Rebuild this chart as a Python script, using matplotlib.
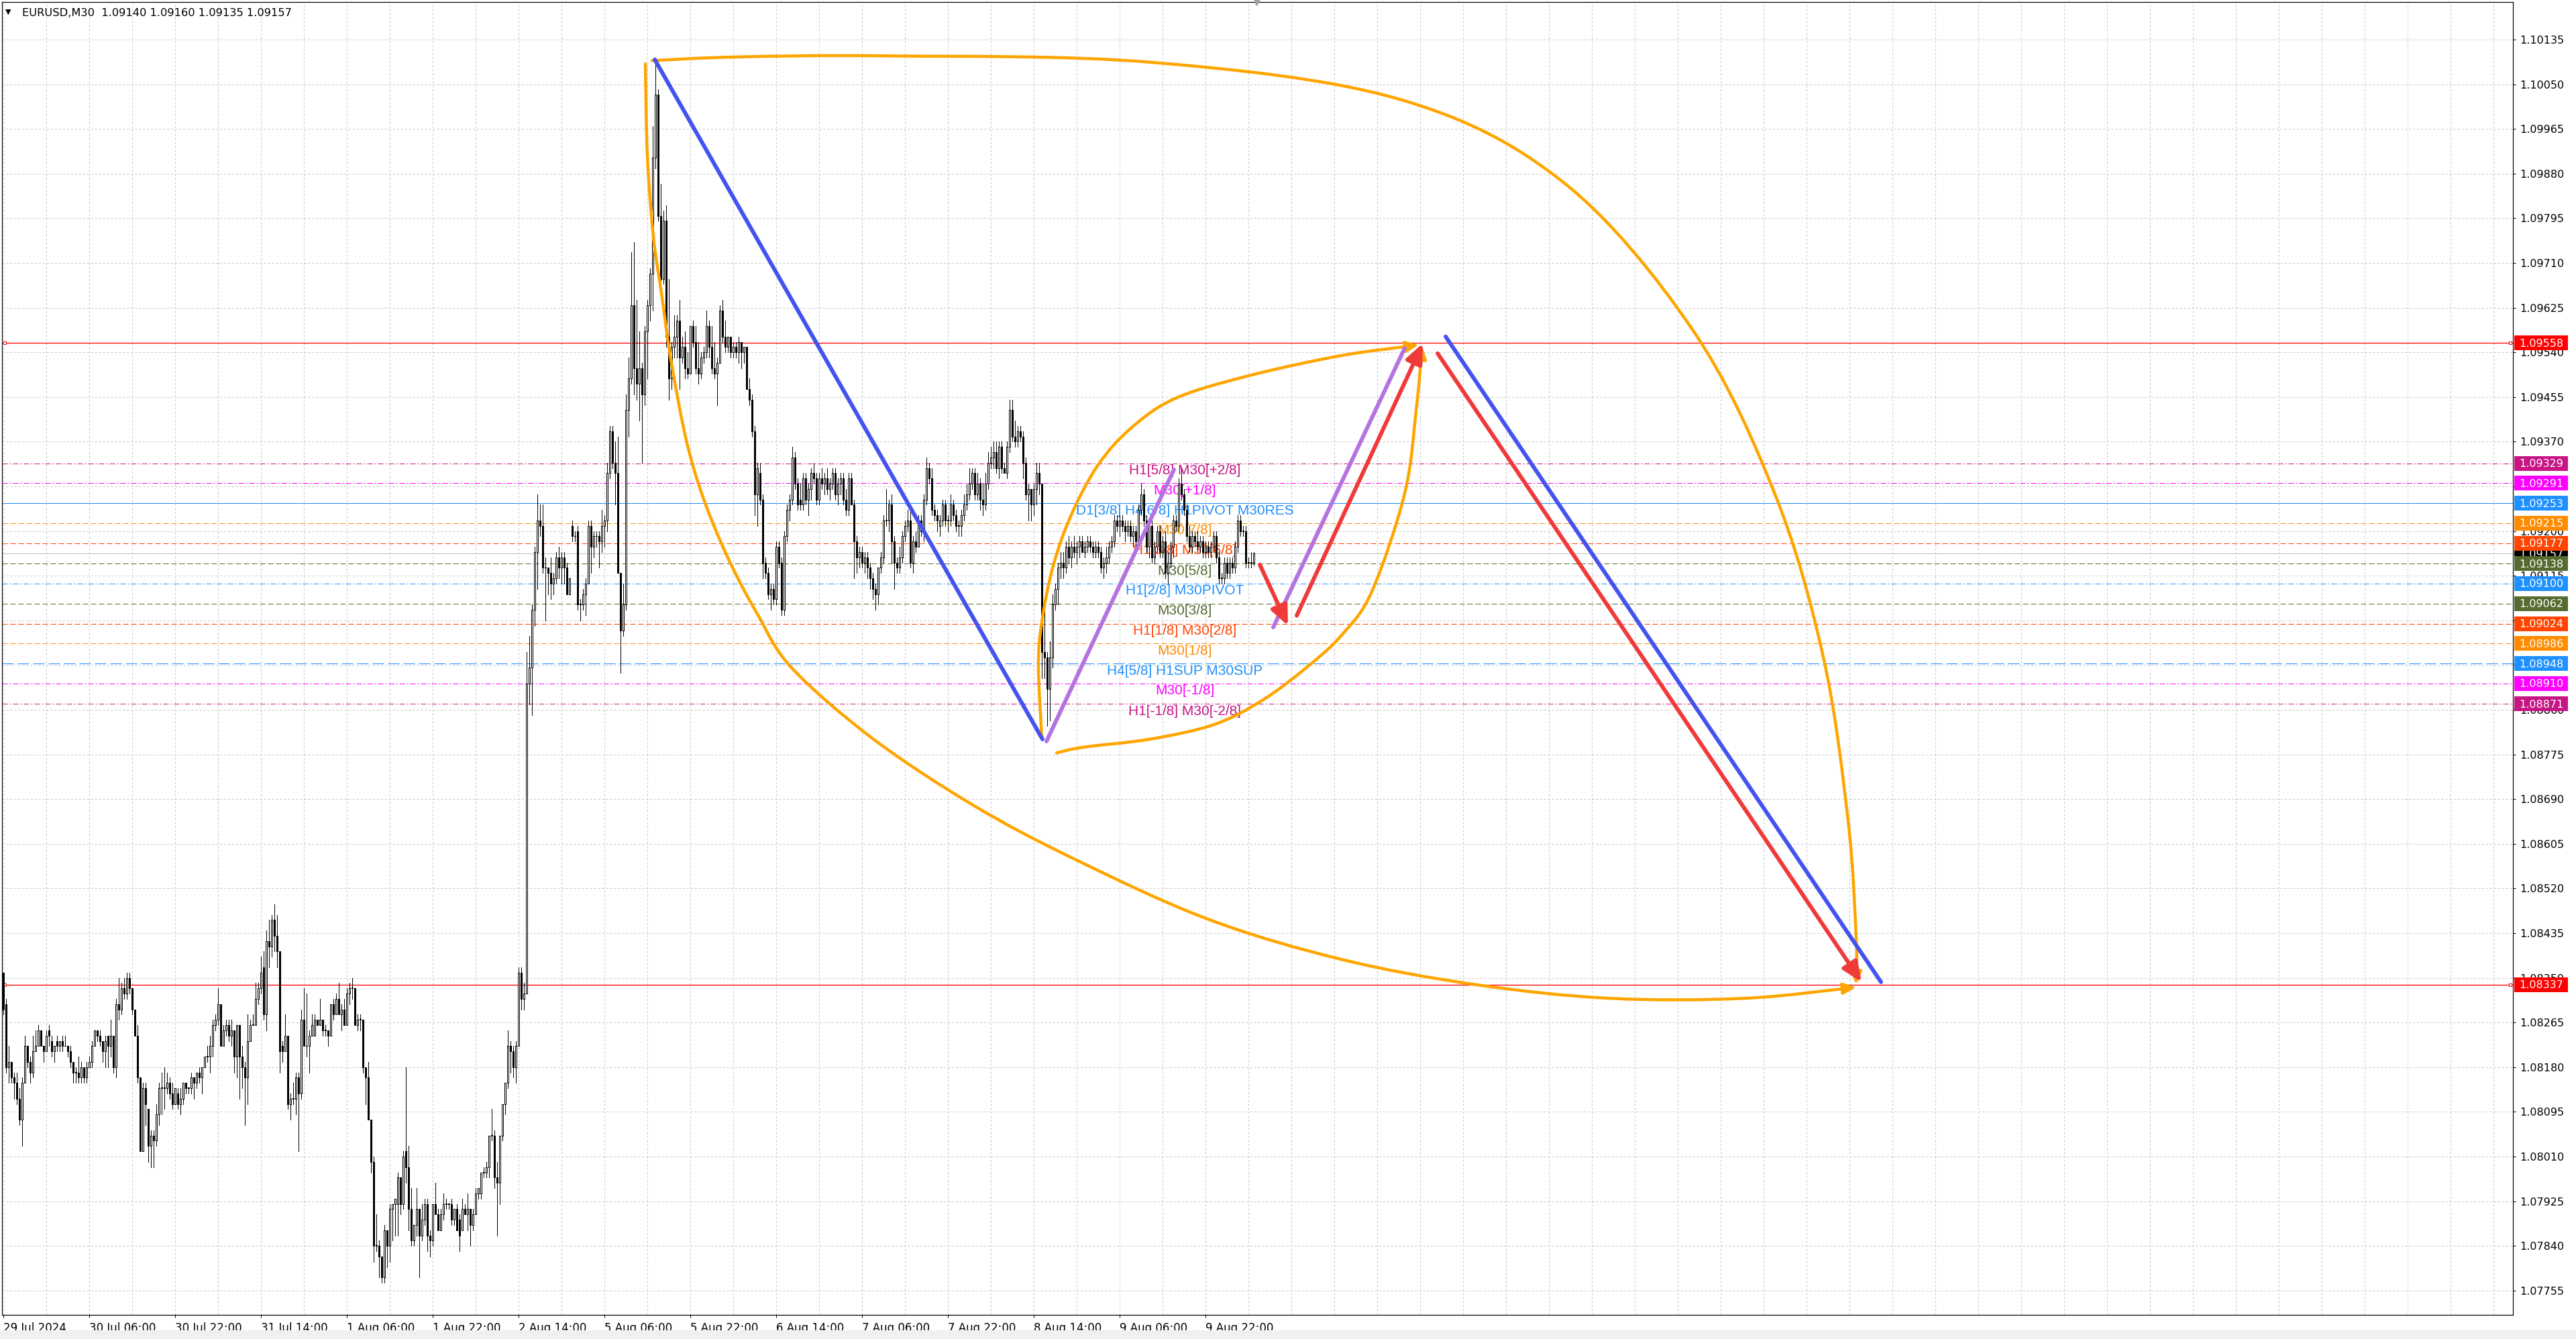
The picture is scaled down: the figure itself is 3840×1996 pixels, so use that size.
import numpy as np
import matplotlib
matplotlib.use("Agg")
import matplotlib.pyplot as plt
from matplotlib.path import Path
from matplotlib.patches import FancyArrowPatch, Rectangle
from matplotlib.transforms import blended_transform_factory

plt.rcParams['font.family'] = ['DejaVu Sans']
plt.rcParams['lines.scale_dashes'] = False

PX = 0.72  # one pixel in points (dpi 100)

# EURUSD M30 candles, bar 0 = 29 Jul 14:00; prices in pips above 1.0000
opens = [
    836, 830, 818, 819, 816, 815, 812, 808, 815, 822,
    819, 817, 821, 822, 825, 822, 821, 825, 823, 821,
    823, 822, 823, 822, 822, 821, 819, 817, 817, 816,
    818, 816, 818, 819, 822, 825, 824, 823, 821, 824,
    822, 824, 818, 830, 829, 833, 832, 835, 833, 829,
    824, 816, 802, 814, 810, 803, 805, 804, 809, 814,
    814, 814, 815, 813, 811, 813, 811, 812, 815, 814,
    814, 816, 815, 817, 816, 818, 820, 820, 822, 826,
    827, 830, 822, 825, 826, 824, 825, 820, 826, 820,
    818, 816, 823, 826, 826, 831, 833, 837, 828, 842,
    841, 846, 843, 840, 822, 821, 824, 811, 812, 812,
    816, 813, 827, 822, 822, 824, 824, 827, 826, 827,
    825, 825, 824, 830, 828, 831, 828, 829, 826, 832,
    833, 833, 826, 827, 827, 818, 816, 808, 800, 784,
    784, 782, 778, 787, 784, 791, 792, 792, 797, 792,
    802, 799, 791, 785, 788, 791, 786, 789, 792, 786,
    785, 792, 790, 787, 790, 792, 792, 792, 789, 791,
    789, 787, 791, 790, 791, 788, 790, 794, 794, 798,
    798, 799, 805, 805, 797, 796, 805, 811, 815, 822,
    821, 818, 822, 836, 831, 832, 891, 894, 905, 916,
    922, 921, 913, 913, 912, 910, 911, 915, 913, 915,
    913, 908, 921, 919, 920, 906, 906, 908, 910, 921,
    917, 919, 919, 918,
    921, 922, 931, 939, 933, 931, 912, 901, 906, 943,
    949, 963, 951, 948, 951, 946, 958, 963, 969, 991,
    1003, 980, 968, 979, 957, 949, 955, 957, 960, 953,
    955, 951, 950, 959, 956, 951, 950, 953, 954, 959,
    955, 951, 950, 952, 962, 957, 955, 957, 954, 955,
    954, 956, 954, 955, 947, 945, 939, 927, 931, 926,
    914, 912, 908, 909, 907, 917, 914, 905, 919, 924,
    926, 934, 929, 926, 925, 930, 926, 928, 931, 930,
    926, 930, 929, 930, 928, 929, 931, 927, 929, 930,
    926, 924, 930, 925, 918, 915, 916, 914, 915, 913,
    911, 909, 908, 913, 915, 922, 922, 925, 918, 914,
    913, 915, 919, 921, 922, 914, 918, 917, 922, 920,
    926, 932, 930, 924, 923, 921, 922, 925, 922, 922,
    925, 923, 921, 921, 923, 925, 927, 929, 931, 927,
    929, 926, 925, 929, 933, 934, 935, 932, 936, 932,
    931, 936, 943, 938, 937, 939, 938, 933, 927, 928,
    925, 928, 931, 929, 897, 896, 890, 896, 906, 909,
    913, 914, 913, 917, 915, 917, 916, 917, 918, 916,
    917, 918, 917, 916, 917, 916, 913, 914, 915, 917,
    918, 922, 921, 922, 921, 920, 921, 919, 920, 918,
    924, 927, 922, 917, 921, 915, 917, 920, 916, 918,
    912, 914, 917, 922, 921, 929, 927, 924, 919, 917,
    919, 918, 917, 918, 916, 917, 916, 917, 919, 915,
    911, 911, 914, 912, 914, 913, 917, 922, 920, 920,
    914, 914, 914.0,
]
highs = [
    836, 831, 822, 819, 817, 817, 814, 816, 824, 822,
    820, 824, 825, 826, 825, 822, 825, 826, 824, 822,
    824, 823, 824, 824, 822, 822, 819, 818, 820, 819,
    818, 819, 820, 823, 825, 825, 825, 823, 824, 824,
    827, 824, 831, 835, 834, 835, 836, 836, 833, 829,
    826, 816, 815, 815, 810, 806, 806, 811, 815, 817,
    818, 817, 816, 815, 814, 814, 814, 815, 815, 814,
    817, 816, 817, 818, 818, 820, 822, 824, 827, 828,
    833, 830, 826, 827, 827, 827, 825, 826, 826, 822,
    819, 828, 827, 828, 834, 834, 839, 840, 844, 846,
    847, 849, 847, 840, 823, 828, 824, 813, 815, 817,
    817, 829, 833, 832, 825, 828, 828, 827, 831, 827,
    826, 825, 830, 831, 832, 834, 830, 831, 833, 834,
    835, 833, 828, 828, 827, 818, 819, 808, 801, 790,
    785, 782, 788, 787, 792, 792, 793, 798, 797, 802,
    818, 803, 795, 788, 795, 791, 792, 793, 793, 787,
    792, 796, 791, 791, 794, 793, 792, 793, 791, 792,
    790, 793, 792, 794, 791, 791, 795, 795, 798, 799,
    800, 805, 810, 806, 800, 805, 811, 815, 825, 823,
    822, 823, 837, 837, 834, 897, 900, 906, 917, 927,
    925, 925, 915, 913, 915, 912, 916, 917, 916, 916,
    914, 911, 922, 920, 921, 907, 909, 911, 922, 922,
    920, 920, 920, 924,
    923, 933, 940, 940, 937, 938, 912, 910, 946, 953,
    973, 975, 964, 958, 952, 959, 964, 970, 997, 1010,
    1004, 986, 981, 982, 968, 956, 961, 961, 964, 957,
    958, 954, 959, 960, 959, 956, 954, 955, 962, 960,
    959, 956, 953, 963, 964, 960, 957, 957, 956, 956,
    957, 956, 955, 955, 949, 946, 940, 933, 933, 927,
    915, 913, 910, 910, 918, 918, 915, 920, 925, 927,
    936, 935, 930, 929, 931, 931, 929, 932, 933, 931,
    931, 932, 931, 932, 930, 932, 932, 930, 931, 931,
    928, 931, 931, 926, 919, 917, 917, 916, 916, 914,
    912, 910, 913, 916, 923, 928, 926, 927, 919, 915,
    917, 920, 922, 924, 924, 919, 920, 923, 923, 927,
    934, 933, 932, 925, 924, 923, 926, 926, 923, 927,
    926, 924, 922, 924, 927, 929, 932, 932, 932, 931,
    930, 929, 931, 935, 936, 937, 937, 937, 937, 933,
    937, 945, 945, 941, 940, 940, 939, 934, 929, 928,
    929, 933, 933, 929, 906, 897, 899, 908, 910, 914,
    916, 916, 918, 919, 918, 919, 918, 919, 919, 918,
    919, 919, 918, 918, 918, 917, 915, 917, 918, 919,
    923, 923, 923, 923, 922, 922, 922, 921, 921, 925,
    929, 928, 923, 922, 922, 918, 921, 921, 919, 920,
    916, 918, 923, 923, 930, 932, 928, 925, 921, 920,
    920, 920, 919, 919, 918, 918, 918, 920, 920, 916,
    912, 915, 915, 915, 915, 918, 923, 923, 921, 921,
    915, 916, 916.0,
]
lows = [
    828, 817, 815, 815, 812, 811, 807, 803, 815, 818,
    815, 816, 821, 822, 822, 819, 821, 822, 820, 819,
    821, 821, 821, 822, 820, 818, 815, 815, 815, 815,
    815, 815, 818, 818, 822, 823, 822, 819, 818, 818,
    820, 817, 816, 827, 828, 831, 831, 832, 828, 824,
    815, 802, 802, 807, 800, 799, 799, 803, 807, 809,
    810, 813, 812, 810, 811, 810, 809, 811, 813, 813,
    813, 812, 814, 815, 813, 818, 819, 817, 820, 825,
    826, 822, 822, 824, 823, 822, 817, 816, 812, 814,
    807, 811, 823, 826, 826, 830, 832, 827, 825, 837,
    839, 840, 837, 817, 819, 821, 810, 808, 811, 809,
    802, 812, 822, 820, 817, 824, 824, 826, 826, 824,
    824, 822, 824, 827, 828, 828, 825, 826, 826, 830,
    831, 826, 825, 825, 817, 811, 808, 798, 781, 783,
    778, 777, 777, 780, 781, 785, 786, 786, 790, 791,
    796, 787, 784, 784, 786, 778, 785, 788, 783, 782,
    784, 790, 787, 787, 789, 791, 791, 788, 788, 787,
    783, 787, 790, 787, 784, 787, 790, 793, 793, 797,
    797, 797, 804, 795, 786, 792, 804, 809, 814, 817,
    816, 815, 822, 829, 829, 832, 887, 885, 902, 909,
    919, 912, 903, 908, 907, 908, 910, 911, 910, 910,
    908, 908, 918, 918, 905, 903, 905, 904, 910, 912,
    915, 917, 913, 916,
    917, 920, 930, 932, 925, 912, 893, 900, 905, 938,
    948, 946, 945, 941, 933, 944, 949, 960, 962, 989,
    979, 966, 967, 955, 945, 947, 953, 953, 947, 952,
    949, 949, 950, 955, 950, 948, 949, 952, 953, 953,
    950, 949, 944, 952, 956, 954, 954, 953, 953, 953,
    952, 951, 952, 947, 944, 938, 923, 921, 925, 911,
    911, 907, 905, 906, 906, 913, 904, 904, 918, 922,
    925, 928, 924, 924, 924, 925, 923, 926, 929, 925,
    925, 928, 927, 927, 926, 928, 926, 925, 927, 925,
    923, 923, 925, 911, 912, 913, 913, 912, 911, 909,
    907, 905, 906, 912, 914, 921, 920, 914, 909, 912,
    912, 914, 918, 920, 913, 912, 916, 917, 919, 918,
    925, 929, 923, 922, 920, 919, 921, 921, 920, 921,
    922, 920, 919, 919, 922, 924, 926, 928, 926, 926,
    924, 923, 924, 928, 932, 932, 931, 930, 931, 931,
    930, 935, 937, 936, 936, 937, 930, 926, 922, 922,
    923, 925, 927, 892, 892, 883, 884, 894, 905, 906,
    911, 911, 912, 914, 913, 915, 914, 915, 916, 915,
    916, 916, 915, 915, 915, 912, 911, 912, 914, 916,
    917, 920, 919, 920, 918, 919, 918, 917, 917, 917,
    923, 921, 916, 915, 914, 914, 916, 915, 915, 911,
    910, 913, 915, 920, 920, 926, 923, 918, 916, 916,
    917, 916, 916, 915, 915, 915, 915, 916, 914, 910,
    910, 910, 911, 911, 912, 912, 916, 919, 919, 913,
    913, 913, 913.5,
]
closes = [
    829, 818, 819, 816, 815, 812, 808, 815, 822, 819,
    817, 821, 822, 825, 822, 821, 824, 824, 821, 822,
    822, 823, 822, 822, 821, 819, 817, 817, 816, 818,
    816, 818, 819, 822, 825, 824, 823, 821, 823, 822,
    824, 818, 830, 829, 833, 832, 835, 833, 829, 824,
    816, 802, 814, 811, 803, 805, 804, 809, 814, 814,
    814, 815, 813, 811, 814, 811, 812, 815, 814, 814,
    816, 815, 817, 816, 818, 820, 820, 822, 826, 827,
    830, 822, 825, 826, 824, 825, 820, 826, 820, 818,
    816, 823, 826, 826, 831, 833, 836, 828, 842, 841,
    846, 843, 840, 821, 821, 824, 811, 812, 812, 816,
    813, 827, 822, 822, 824, 826, 827, 826, 827, 825,
    825, 824, 830, 828, 831, 828, 829, 826, 832, 833,
    833, 826, 827, 827, 818, 816, 808, 800, 784, 784,
    782, 778, 787, 784, 791, 792, 793, 797, 792, 801,
    799, 791, 785, 788, 791, 786, 789, 792, 786, 785,
    792, 790, 787, 790, 792, 792, 792, 789, 791, 787,
    786, 791, 790, 791, 788, 790, 794, 795, 798, 798,
    799, 805, 805, 797, 796, 805, 811, 815, 822, 821,
    818, 822, 836, 831, 832, 891, 894, 905, 916, 922,
    921, 913, 913, 912, 910, 911, 915, 913, 915, 913,
    908, 911, 919, 919, 906, 906, 908, 910, 921, 917,
    919, 919, 918, 921,
    922, 931, 939, 933, 931, 912, 901, 906, 943, 949,
    963, 951, 948, 951, 946, 958, 963, 969, 991, 1003,
    980, 968, 979, 957, 949, 955, 957, 960, 953, 955,
    951, 950, 959, 956, 951, 950, 953, 954, 959, 955,
    951, 950, 952, 962, 957, 955, 957, 954, 955, 954,
    956, 954, 955, 947, 945, 939, 927, 932, 926, 914,
    912, 908, 909, 907, 917, 914, 905, 919, 924, 926,
    934, 929, 925, 925, 930, 926, 928, 931, 930, 926,
    930, 929, 930, 928, 929, 931, 927, 929, 930, 926,
    924, 930, 925, 918, 915, 916, 914, 915, 913, 911,
    909, 908, 913, 915, 922, 922, 925, 918, 914, 913,
    915, 919, 921, 922, 914, 918, 917, 922, 920, 926,
    932, 930, 924, 923, 922, 922, 925, 922, 922, 925,
    923, 921, 921, 923, 925, 927, 929, 931, 927, 929,
    926, 925, 929, 933, 934, 935, 932, 936, 932, 931,
    936, 943, 938, 937, 939, 938, 933, 927, 928, 925,
    928, 931, 929, 897, 896, 890, 896, 906, 909, 913,
    914, 913, 917, 915, 917, 916, 917, 918, 916, 917,
    918, 917, 916, 917, 916, 913, 914, 915, 917, 918,
    922, 921, 922, 921, 920, 921, 919, 920, 918, 924,
    927, 922, 917, 921, 915, 917, 920, 916, 918, 912,
    914, 917, 922, 921, 929, 927, 924, 919, 917, 919,
    918, 917, 918, 916, 917, 916, 917, 919, 915, 911,
    911, 914, 912, 914, 913, 917, 922, 920, 920, 914,
    914, 914, 915.7,
]

price_ticks = [1.07755, 1.07840, 1.07925, 1.08010, 1.08095, 1.08180, 1.08265,
               1.08350, 1.08435, 1.08520, 1.08605, 1.08690, 1.08775, 1.08860,
               1.08945, 1.09030, 1.09115, 1.09200, 1.09285, 1.09370, 1.09455,
               1.09540, 1.09625, 1.09710, 1.09795, 1.09880, 1.09965, 1.10050,
               1.10135]
time_bars = [0, 32, 64, 96, 128, 160, 192, 224, 256, 288, 320, 352, 384, 416, 448]
time_labels = ['29 Jul 2024', '30 Jul 06:00', '30 Jul 22:00', '31 Jul 14:00',
               '1 Aug 06:00', '1 Aug 22:00', '2 Aug 14:00', '5 Aug 06:00',
               '5 Aug 22:00', '6 Aug 14:00', '7 Aug 06:00', '7 Aug 22:00',
               '8 Aug 14:00', '9 Aug 06:00', '9 Aug 22:00']

# Murrey math levels
level_prices = [1.09329, 1.09291, 1.09253, 1.09215, 1.09177, 1.09138, 1.09100,
                1.09062, 1.09024, 1.08986, 1.08948, 1.08910, 1.08871]
level_names = ['H1[5/8] M30[+2/8]', 'M30[+1/8]', 'D1[3/8] H4[6/8] H1PIVOT M30RES',
               'M30[7/8]', 'H1[3/8] M30[6/8]', 'M30[5/8]', 'H1[2/8] M30PIVOT',
               'M30[3/8]', 'H1[1/8] M30[2/8]', 'M30[1/8]', 'H4[5/8] H1SUP M30SUP',
               'M30[-1/8]', 'H1[-1/8] M30[-2/8]']
level_colors = ['#C71585', '#FF00FF', '#1E90FF', '#FF8C00', '#FF4500', '#556B2F',
                '#1E90FF', '#556B2F', '#FF4500', '#FF8C00', '#1E90FF', '#FF00FF',
                '#C71585']
level_styles = ['dashdot', 'dashdot', 'solid', 'dash', 'dash', 'dash', 'dashdot',
                'dash', 'dash', 'dash', 'longdash', 'dashdot', 'dashdot']
red_levels = [1.09558, 1.08337]
bid_price = 1.09157

# analyst drawings (bar index, price)
blue_bars = [[242.75, 387.25], [537.5, 699.75]]
blue_prices = [[1.10097, 1.08804], [1.09570, 1.08342]]
purple_bars = [[388.75, 436.25], [473.25, 522.25]]
purple_prices = [[1.08800, 1.09317], [1.09017, 1.09548]]
red_bars = [[468.25, 478.75], [482.0, 529.0], [534.5, 692.5]]
red_prices = [[1.09136, 1.09020], [1.09039, 1.09557], [1.09538, 1.08342]]

outer_top_bars = [241.75, 273.75, 329.25, 427.25, 519.25, 580.5, 629.25, 660.0,
                  678.25, 687.5, 690.5, 690.5]
outer_top_prices = [1.10095, 1.10102, 1.10104, 1.10092, 1.10023, 1.09867, 1.09585,
                    1.09273, 1.08960, 1.08648, 1.08424, 1.08337]
outer_bot_bars = [239.25, 240.0, 242.25, 245.5, 248.75, 254.5, 261.25, 270.75, 281.25,
                  293.75, 323.75, 361.25, 398.75, 448.75, 498.75, 548.75, 598.75,
                  648.75, 690.5]
outer_bot_prices = [1.10089, 1.09914, 1.09760, 1.09644, 1.09527, 1.09373, 1.09257,
                    1.09141, 1.09040, 1.08940, 1.08806, 1.08679, 1.08577, 1.08462,
                    1.08385, 1.08337, 1.08311, 1.08311, 1.08332]
inner_up_bars = [387.0, 385.75, 387.0, 391.25, 398.0, 408.0, 420.5, 437.0, 464.5,
                 498.75, 527.5]
inner_up_prices = [1.08806, 1.08943, 1.09027, 1.09134, 1.09231, 1.09326, 1.09397,
                   1.09453, 1.09496, 1.09534, 1.09554]
inner_low_bars = [392.5, 402.75, 427.25, 451.25, 469.5, 486.25, 498.75, 510.0,
                  522.25, 526.5, 528.75]
inner_low_prices = [1.08778, 1.08789, 1.08804, 1.08832, 1.08879, 1.08943, 1.09002,
                    1.09085, 1.09272, 1.09429, 1.09552]

DASHES = {
    'solid': '-',
    'dash': (0, (8 * PX, 4 * PX)),
    'longdash': (0, (17 * PX, 6 * PX)),
    'dashdot': (0, (8 * PX, 3 * PX, 2 * PX, 3 * PX)),
}
ORANGE = '#FFA500'
BLUE = '#4453F0'
PURPLE = '#B473E0'
RED = '#F03A3A'


def smooth(xs, ys):
    pts = np.column_stack([xs, ys]).astype(float)
    verts = [pts[0]]
    codes = [Path.MOVETO]
    n = len(pts)
    for i in range(n - 1):
        p0, p1 = pts[max(i - 1, 0)], pts[i]
        p2, p3 = pts[i + 1], pts[min(i + 2, n - 1)]
        verts += [p1 + (p2 - p0) / 6, p2 - (p3 - p1) / 6, p2]
        codes += [Path.CURVE4] * 3
    return Path(verts, codes)


o = 1.0 + np.array(opens, float) / 10000.0
h = 1.0 + np.array(highs, float) / 10000.0
l = 1.0 + np.array(lows, float) / 10000.0
c = 1.0 + np.array(closes, float) / 10000.0
x = np.arange(len(c))

fig = plt.figure(figsize=(38.4, 19.96), dpi=100)
ax = fig.add_axes([3 / 3840, 36 / 1996, 3743 / 3840, 1957 / 1996])
ax.set_xlim(-0.5, 935.25)
ax.set_ylim(1.077088, 1.102065)
for s in ax.spines.values():
    s.set_linewidth(1.2 * PX)
    s.set_color('black')

# grid
for p in price_ticks:
    ax.axhline(p, color='#C4C4C4', lw=PX, ls=(0, (3 * PX, 3 * PX)), zorder=0.5)
for b in range(0, 936, 16):
    ax.axvline(b, color='#C4C4C4', lw=PX, ls=(0, (3 * PX, 3 * PX)), zorder=0.5)

# levels
for p, name, col, st in zip(level_prices, level_names, level_colors, level_styles):
    ax.axhline(p, color=col, lw=PX, ls=DASHES[st], zorder=1)
    ax.text(440.25, p - 11 / 78353, name, color=col, ha='center', va='center',
            fontsize=15, family=['Liberation Sans', 'DejaVu Sans'], zorder=2)
ax.axhline(bid_price, color='#C0C0C0', lw=PX, zorder=1)
for p in red_levels:
    ax.axhline(p, color='red', lw=1.3 * PX, zorder=1.6)
    ax.plot([0.5, 934.3], [p, p], 's', ms=5 * PX, mfc='white', mec='red', mew=PX,
            zorder=1.7, clip_on=False)

# candles
up = c >= o
ax.vlines(x, l, h, color='black', lw=PX, zorder=3, antialiased=False)
body_lo = np.minimum(o, c)
body_h = np.maximum(np.abs(c - o), 0.000012)
ax.bar(x[up], body_h[up], bottom=body_lo[up], width=0.55, color='white',
       edgecolor='black', lw=PX, zorder=3.2, antialiased=False)
ax.bar(x[~up], body_h[~up], bottom=body_lo[~up], width=0.55, color='black',
       edgecolor='black', lw=PX, zorder=3.2, antialiased=False)

# drawings
head = '-|>,head_length=0.8,head_width=0.35'
for bx, py in [(outer_top_bars, outer_top_prices), (outer_bot_bars, outer_bot_prices),
               (inner_up_bars, inner_up_prices), (inner_low_bars, inner_low_prices)]:
    ax.add_patch(FancyArrowPatch(path=smooth(bx, py), arrowstyle=head, mutation_scale=14,
                                 color=ORANGE, lw=4.5 * PX, zorder=4, capstyle='round'))
for bx, py in zip(blue_bars, blue_prices):
    ax.plot(bx, py, color=BLUE, lw=6 * PX, solid_capstyle='round', zorder=5)
for bx, py in zip(purple_bars, purple_prices):
    ax.plot(bx, py, color=PURPLE, lw=6 * PX, solid_capstyle='round', zorder=5)
for bx, py in zip(red_bars, red_prices):
    ax.add_patch(FancyArrowPatch((bx[0], py[0]), (bx[1], py[1]), arrowstyle=head,
                                 mutation_scale=22, color=RED, lw=6 * PX,
                                 shrinkA=0, shrinkB=0, zorder=6))

# axes ticks
ax.yaxis.tick_right()
ax.set_yticks(price_ticks)
ax.set_yticklabels([f'{p:.5f}' for p in price_ticks])
ax.tick_params(axis='y', length=4 * PX, width=PX, pad=6 * PX, labelsize=11.5)
ax.set_xticks(time_bars)
ax.set_xticklabels(time_labels)
ax.tick_params(axis='x', length=4 * PX, width=PX, pad=7 * PX, labelsize=12)
for lbl in ax.get_xticklabels():
    lbl.set_ha('left')

# price boxes on the right scale
trans = blended_transform_factory(ax.transAxes, ax.transData)
bx0 = 1 + 2 / 3743
bw = 80 / 3743
bh = 22 / 78353


def price_box(p, col, z):
    ax.add_patch(Rectangle((bx0, p - bh / 2), bw, bh, transform=trans, facecolor=col,
                           edgecolor='none', clip_on=False, zorder=z))
    ax.text(bx0 + bw / 2, p - 1 / 78353, f'{p:.5f}', transform=trans, ha='center',
            va='center', color='white', fontsize=11.5, clip_on=False, zorder=z + 0.1)


price_box(bid_price, 'black', 10)
for p, col in zip(level_prices, level_colors):
    price_box(p, col, 11)
for p in red_levels:
    price_box(p, '#FF0000', 11)

# title and frame bits
fig.text(8 / 3840, 1 - 18 / 1996, '\u25bc', fontsize=8, va='center')
fig.text(33 / 3840, 1 - 19 / 1996, 'EURUSD,M30  1.09140 1.09160 1.09135 1.09157',
         fontsize=11.7, va='center')
ax.plot([467], [1.102065], marker='v', ms=9 * PX, color='#A0A0A0', clip_on=False,
        zorder=12)
fig.patches.append(Rectangle((0, 0), 1, 13 / 1996, transform=fig.transFigure,
                             facecolor='#F0F0F0', edgecolor='none'))

fig.savefig('out.png', dpi=100, facecolor='white')
